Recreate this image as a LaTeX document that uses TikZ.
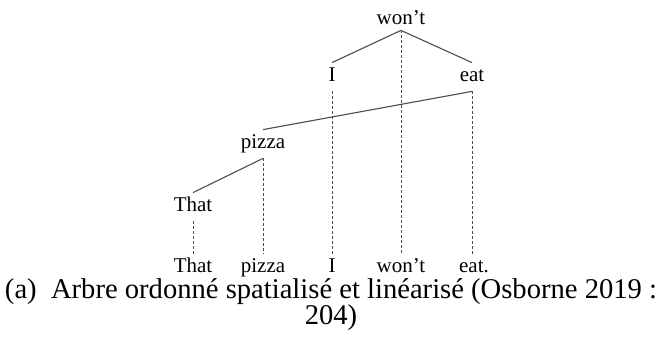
\documentclass[tikz,border=0pt]{standalone}
\usepackage{fontspec}
\setmainfont{Liberation Serif}
\usepackage{tikz}
\usetikzlibrary{positioning}

\begin{document}
\begin{tikzpicture}[
  x=0.5pt, y=-0.5pt,
  word/.style  = {font=\fontsize{10.5}{12}\selectfont, inner sep=2pt, text height=7pt, text depth=3pt},
  root/.style  = {word, text depth=1pt},
  dep/.style   = {draw=black!70, line width=0.55pt},
  proj/.style  = {draw=black!70, line width=0.45pt, dash pattern=on 1.5pt off 1pt},
  capt/.style  = {font=\fontsize{14.3}{13}\selectfont, align=center, anchor=north, inner sep=0pt},
]
\useasboundingbox (0,0) rectangle (665,343);
% tree, one level per row
\node[root] (wont) at (401,18)  {won’t};
\node[word] (i)    at (332,77)  {I};
\node[word] (eat)  at (472,77)  {eat};
\node[word] (pizza) at (263,144) {pizza};
\node[word] (that) at (193,207) {That};
% linear order
\node[word] (thatL)  at (193,268) {That};
\node[word] (pizzaL) at (263,268) {pizza};
\node[word] (iL)     at (332,268) {I};
\node[word] (wontL)  at (401,268) {won’t};
\node[word] (eatL)   at (474,268) {eat.};
% dependencies
\draw[dep] (wont.south) -- (i.north);
\draw[dep] (wont.south) -- (eat.north);
\draw[dep] (eat.south) -- (pizza.north);
\draw[dep] (pizza.south) -- (that.north);
% projection lines
\draw[proj] (that.south) -- (thatL.north);
\draw[proj] (pizza.south) -- (pizzaL.north);
\draw[proj] (i.south) -- (iL.north);
\draw[proj] (wont.south) -- (wontL.north);
\draw[proj] (eat.south) -- (eatL.north -| eat.south);
\node[capt] (caption) at (331,278) {(a)\ \ Arbre ordonné spatialisé et linéarisé (Osborne 2019 :\\204)};
\end{tikzpicture}
\end{document}
